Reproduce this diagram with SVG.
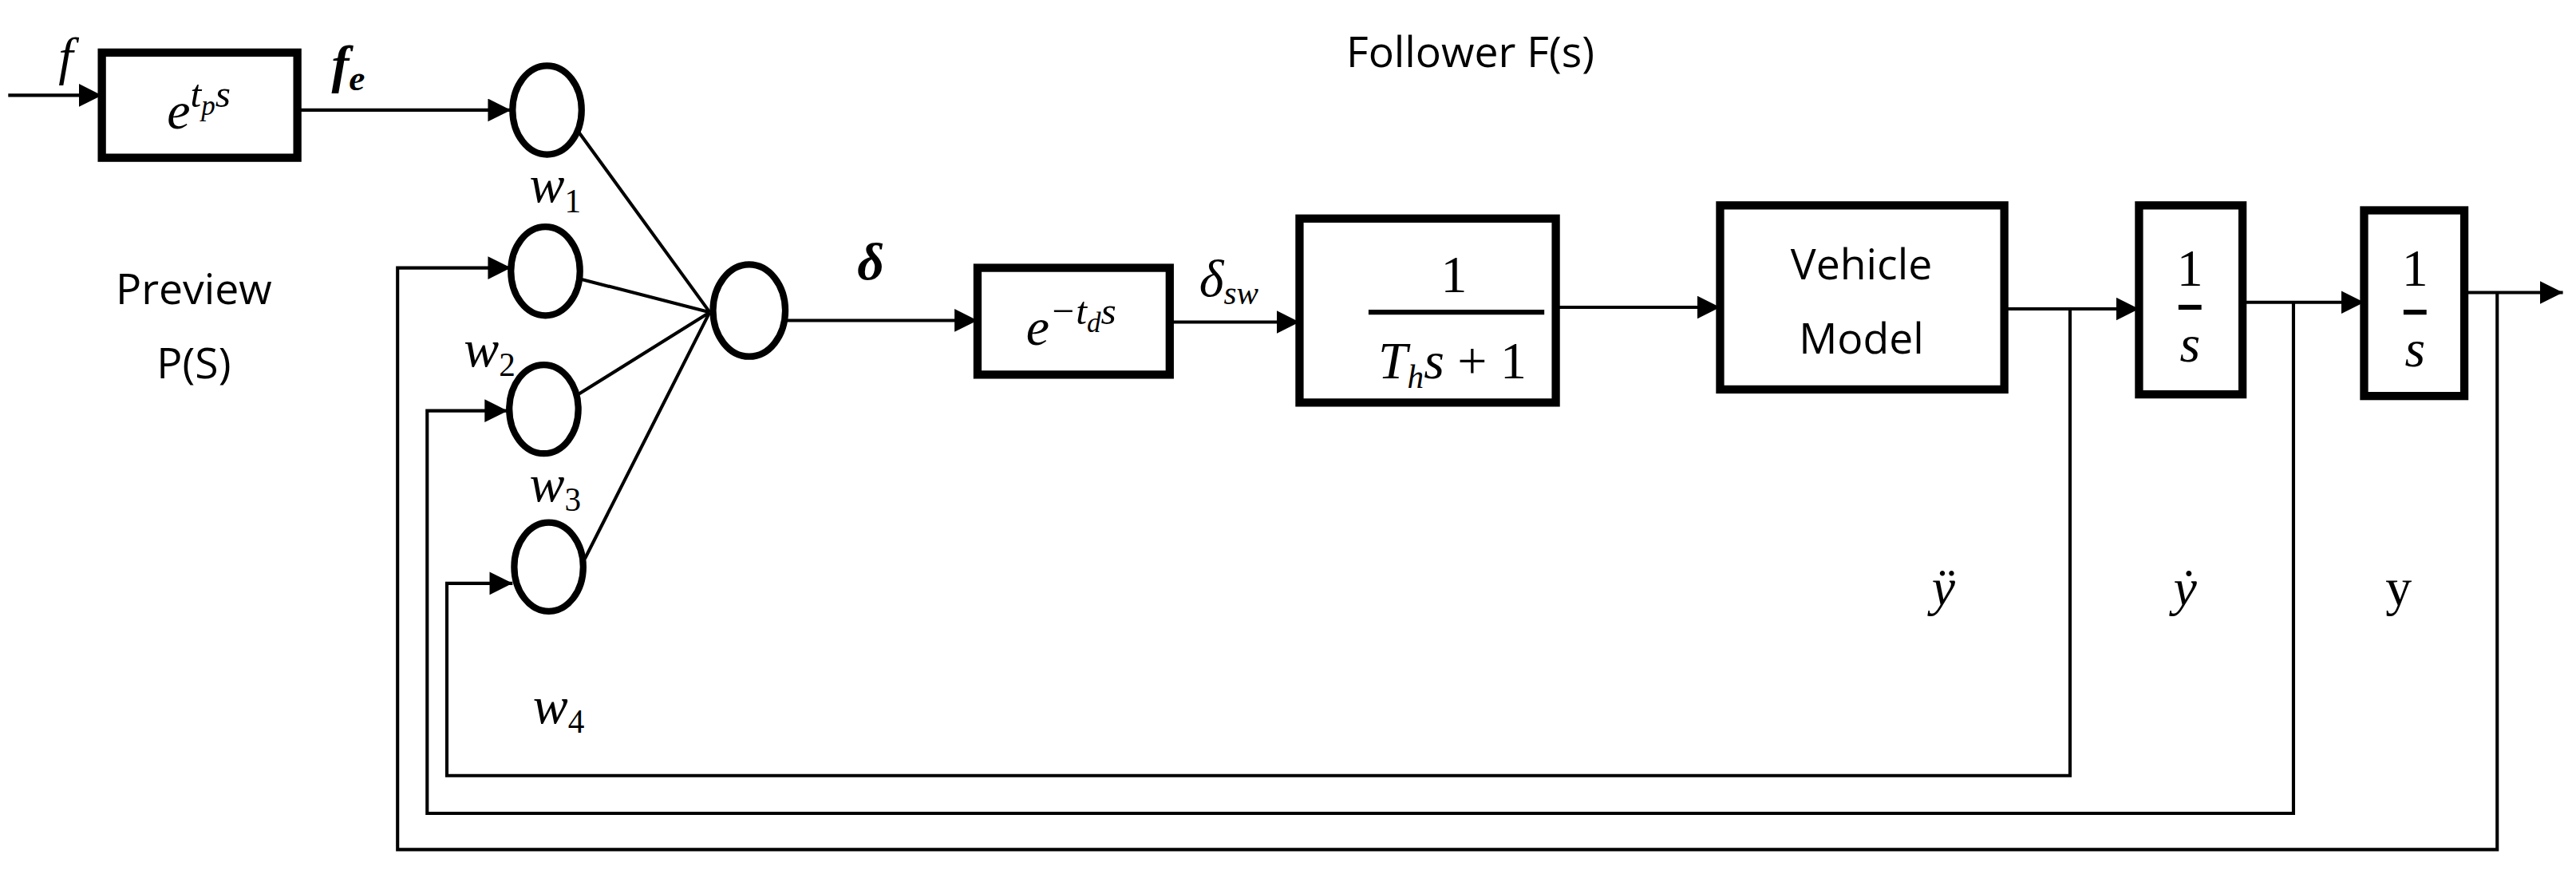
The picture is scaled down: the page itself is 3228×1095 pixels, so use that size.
<svg xmlns="http://www.w3.org/2000/svg" width="3228" height="1095" viewBox="0 0 3228 1095">
<style>
.b{fill:#fff;stroke:#000;stroke-width:5}
.c{fill:#fff;stroke:#000;stroke-width:4}
.l{fill:none;stroke:#000;stroke-width:2}
.s{font-family:"Open Sans","Liberation Sans",sans-serif;font-size:26px;fill:#000;text-anchor:middle}
.m{font-family:"Liberation Serif",serif;font-style:italic;font-size:32px;fill:#000;text-anchor:middle}
.n{font-family:"Liberation Serif",serif;font-size:32px;fill:#000;text-anchor:middle}
</style>
<defs>
<marker id="a" markerUnits="userSpaceOnUse" markerWidth="16" markerHeight="16" refX="14" refY="7" orient="auto"><path d="M0,0L14,7L0,14z" fill="#000"/></marker>
</defs>
<rect width="3228" height="1095" fill="#fff"/>
<g transform="scale(2.0587)">
<g id="connectors">
<path class="l" d="M5,58H62" marker-end="url(#a)"/>
<path class="l" d="M181,67H311" marker-end="url(#a)"/>
<path class="l" d="M352,80L432,190M354,170L432,190M352,240L432,190M356,340L432,190"/>
<path class="l" d="M478,195H595" marker-end="url(#a)"/>
<path class="l" d="M712,196H791" marker-end="url(#a)"/>
<path class="l" d="M947,187H1047" marker-end="url(#a)"/>
<path class="l" d="M1220,188H1302" marker-end="url(#a)"/>
<path class="l" d="M1365,184H1439" marker-end="url(#a)"/>
<path class="l" d="M1500,178H1560" marker-end="url(#a)"/>
<path class="l" d="M1260,188V472H272V355H312" marker-end="url(#a)"/>
<path class="l" d="M1396,184V495H260V250H309" marker-end="url(#a)"/>
<path class="l" d="M1520,178V517H242V163H311" marker-end="url(#a)"/>
</g>
<g id="preview"><rect class="b" x="62" y="32" width="119" height="64"/><text class="m" x="121" y="78">e<tspan font-size="24" dy="-13">t</tspan><tspan font-size="17" dy="5">p</tspan><tspan font-size="24" dy="-5">s</tspan></text></g>
<g id="w1"><ellipse class="c" cx="333" cy="67" rx="21" ry="27"/></g>
<g id="w2"><ellipse class="c" cx="332" cy="165" rx="21" ry="27"/></g>
<g id="w3"><ellipse class="c" cx="331" cy="249" rx="21" ry="27"/></g>
<g id="w4"><ellipse class="c" cx="334" cy="345" rx="21" ry="27"/></g>
<g id="sum"><ellipse class="c" cx="456" cy="189" rx="22" ry="28"/></g>
<g id="delay"><rect class="b" x="595" y="163" width="117" height="65"/><text class="m" x="652" y="210">e<tspan font-size="24" dy="-13">−t</tspan><tspan font-size="17" dy="5">d</tspan><tspan font-size="24" dy="-5">s</tspan></text></g>
<g id="lag"><rect class="b" x="791" y="133" width="156" height="112"/><text class="n" x="885" y="178">1</text><path d="M833,190H940" stroke="#000" stroke-width="3"/><text class="m" x="884" y="230">T<tspan font-size="20" dy="6">h</tspan><tspan dy="-6">s</tspan><tspan font-style="normal"> + 1</tspan></text></g>
<g id="vehicle"><rect class="b" x="1047" y="125" width="173" height="112"/><text class="s" x="1133" y="170">Vehicle</text><text class="s" x="1133" y="215">Model</text></g>
<g id="int1"><rect class="b" x="1302" y="125" width="63" height="115"/><text class="n" x="1333" y="174">1</text><path d="M1326,187H1340" stroke="#000" stroke-width="3"/><text class="m" x="1333" y="220">s</text></g>
<g id="int2"><rect class="b" x="1439" y="128" width="61" height="113"/><text class="n" x="1470" y="174">1</text><path d="M1463,190H1477" stroke="#000" stroke-width="3"/><text class="m" x="1470" y="223">s</text></g>
<g id="labels">
<text class="m" x="40" y="45">f</text>
<text class="m" x="212" y="50" font-weight="bold">f<tspan font-size="22" dy="5">e</tspan></text>
<text class="m" x="338" y="123">w<tspan font-size="20" dy="6" font-style="normal">1</tspan></text>
<text class="m" x="298" y="223">w<tspan font-size="20" dy="6" font-style="normal">2</tspan></text>
<text class="m" x="338" y="305">w<tspan font-size="20" dy="6" font-style="normal">3</tspan></text>
<text class="m" x="340" y="440">w<tspan font-size="20" dy="6" font-style="normal">4</tspan></text>
<text class="s" x="118" y="185">Preview</text>
<text class="s" x="118" y="230">P(S)</text>
<text class="m" x="530" y="170" font-weight="bold">δ</text>
<text class="m" x="748" y="180">δ<tspan font-size="20" dy="5">sw</tspan></text>
<text class="s" x="895" y="41">Follower F(s)</text>
<text class="m" x="1183" y="368">ÿ</text>
<text class="m" x="1330" y="368">ẏ</text>
<text class="n" x="1460" y="368">y</text>
</g>
</g>
</svg>
